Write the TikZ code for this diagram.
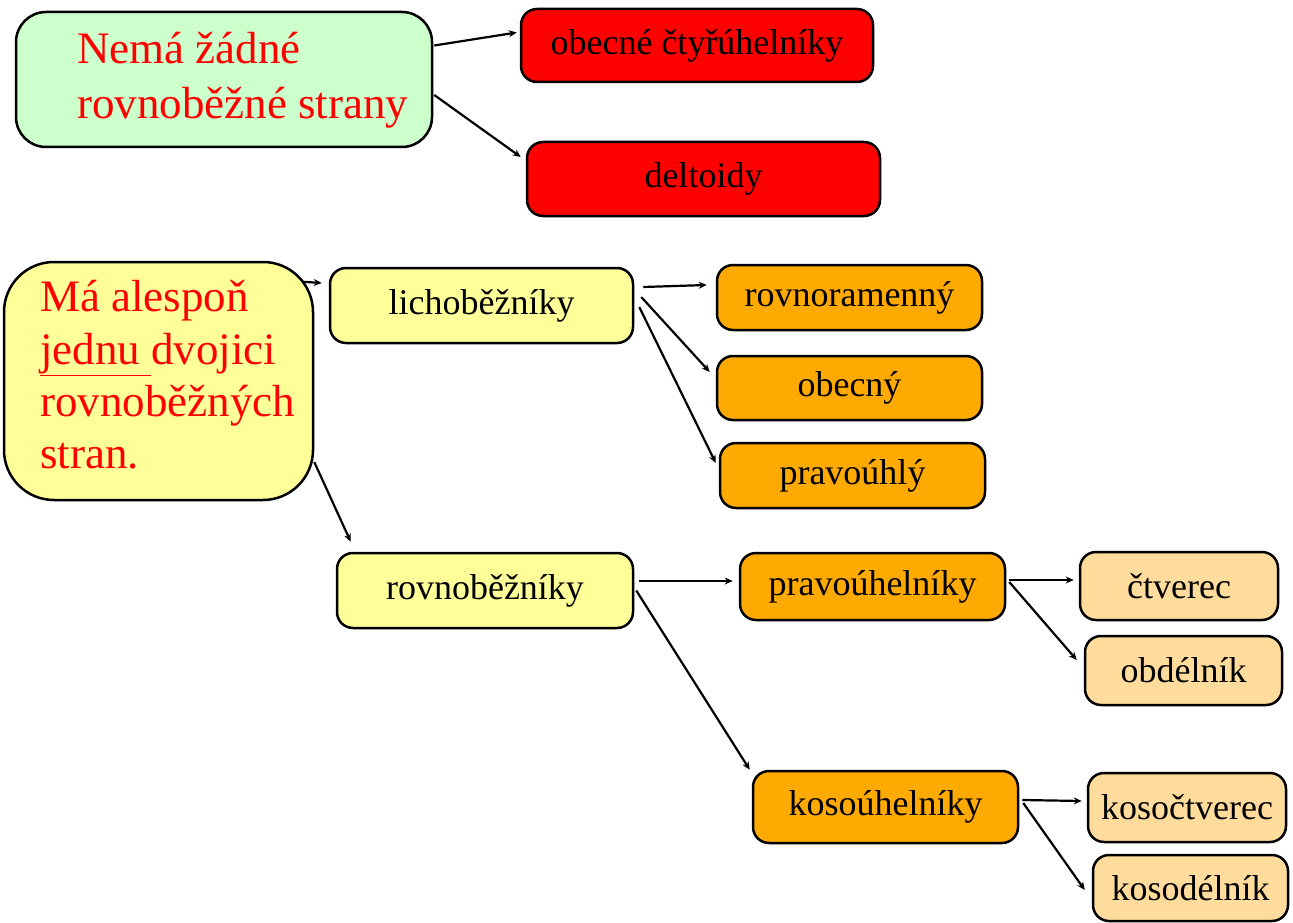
\documentclass[tikz,border=0pt]{standalone}
\usepackage{fontspec}
\setmainfont{Liberation Serif}
\usetikzlibrary{arrows.meta,calc}
\definecolor{gfill}{HTML}{CCFFCC}
\definecolor{rfill}{HTML}{FF0000}
\definecolor{yfill}{HTML}{FFFF99}
\definecolor{ofill}{HTML}{FFAA00}
\definecolor{pfill}{HTML}{FFDC9C}
\definecolor{redtext}{HTML}{FF0000}
\tikzset{
  box/.style={draw=black, line width=2.5pt, rounded corners=16pt, inner sep=0pt,
    font=\fontsize{36}{40}\selectfont, text=black},
  bigbox/.style={draw=black, line width=2.5pt, inner sep=0pt},
  redtxt/.style={font=\fontsize{45}{55}\selectfont, text=redtext, align=left, inner sep=0pt},
  conn/.style={line width=2.2pt, -{Stealth[length=8pt,width=7pt]}},
}
\begin{document}
\begin{tikzpicture}[x=1pt,y=-1pt]
\useasboundingbox (0,0) rectangle (1293,923);
% top group
\node[bigbox, fill=gfill, rounded corners=30pt, minimum width=416pt, minimum height=135pt] (green) at (224,79.5) {};
\node[redtxt, anchor=west] (gtext) at (77,80) {Nemá žádné\\rovnoběžné strany};
\node[box, fill=rfill, minimum width=352pt, minimum height=73pt] (obecne) at (697,45.5) {obecné čtyřúhelníky};
\node[box, fill=rfill, minimum width=353pt, minimum height=74pt] (deltoidy) at (703.5,179) {deltoidy};
% lower group
\node[bigbox, fill=yfill, rounded corners=50pt, minimum width=309pt, minimum height=238pt] (big) at (158.5,381) {};
\node[redtxt, anchor=west, font=\fontsize{45}{52.3}\selectfont] (btext) at (40,375) {Má alespoň\\\underline{jednu }dvojici\\rovnoběžných\\stran.};
\node[box, fill=yfill, minimum width=303pt, minimum height=75pt] (licho) at (481.5,305.5) {lichoběžníky\hspace{36pt}};
\node[box, fill=ofill, minimum width=265pt, minimum height=65pt] (rovnoram) at (849.5,297.5) {rovnoramenný};
\node[box, fill=ofill, minimum width=265pt, minimum height=64pt] (obecny) at (849.5,388) {obecný};
\node[box, fill=ofill, minimum width=265pt, minimum height=65pt] (pravouhly) at (852.5,475.5) {pravoúhlý};
\node[box, fill=yfill, minimum width=296pt, minimum height=75pt] (rovnob) at (485,590.5) {rovnoběžníky};
\node[box, fill=ofill, minimum width=265pt, minimum height=67pt] (pravouh) at (872.5,586.5) {pravoúhelníky};
\node[box, fill=pfill, minimum width=198pt, minimum height=68pt] (ctverec) at (1179,586) {čtverec};
\node[box, fill=pfill, minimum width=197pt, minimum height=69pt] (obdelnik) at (1183.5,670.5) {obdélník};
\node[box, fill=ofill, minimum width=265pt, minimum height=72pt] (kosouh) at (885.5,807) {kosoúhelníky};
\node[box, fill=pfill, minimum width=198pt, minimum height=69pt] (kosoctv) at (1187,807.5) {kosočtverec};
\node[box, fill=pfill, minimum width=195pt, minimum height=66pt] (kosodel) at (1190.5,888) {kosodélník};
% connectors
\draw[conn] ($(green.east)+(1,-34)$) -- ($(obecne.west)+(-3,-13)$);
\draw[conn] ($(green.east)+(1,15.5)$) -- ($(deltoidy.west)+(-5,-22)$);
\draw[conn] ($(big.north east)+(-12,21)$) -- ($(licho.west)+(-7,-22.5)$);
\draw[conn] ($(big.east)+(0,81)$) -- ($(rovnob.north west)+(15,-10)$);
\draw[conn] ($(licho.east)+(9,-18.5)$) -- ($(rovnoram.west)+(-9,-12.5)$);
\draw[conn] ($(licho.east)+(7,-8.5)$) -- ($(obecny.west)+(-6,-16)$);
\draw[conn] ($(licho.east)+(5,1.5)$) -- ($(pravouhly.west)+(-3,-12.5)$);
\draw[conn] ($(rovnob.east)+(5,-9.5)$) -- ($(pravouh.west)+(-6,-5.5)$);
\draw[conn] ($(rovnob.east)+(2,0)$) -- ($(kosouh.north west)+(-2,0)$);
\draw[conn] ($(pravouh.east)+(3,-6.5)$) -- ($(ctverec.west)+(-5,-6)$);
\draw[conn] ($(pravouh.east)+(3,-4.5)$) -- ($(obdelnik.west)+(-7,-10.5)$);
\draw[conn] ($(kosouh.east)+(3,-7)$) -- ($(kosoctv.west)+(-5,-6.5)$);
\draw[conn] ($(kosouh.east)+(4,-4)$) -- ($(kosodel.west)+(-7,2)$);
\end{tikzpicture}
\end{document}
